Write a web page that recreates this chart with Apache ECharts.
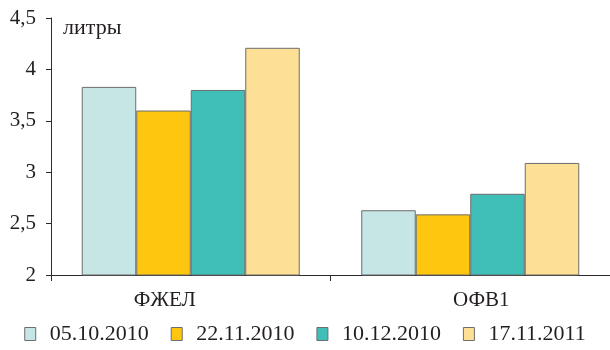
<!DOCTYPE html>
<html>
<head>
<meta charset="utf-8">
<script src="https://cdn.jsdelivr.net/npm/echarts@6/dist/echarts.min.js"></script>
<style>
html, body { margin: 0; padding: 0; background: #fff; }
#chart { width: 610px; height: 350px; }
</style>
</head>
<body>
<div id="chart"></div>
<script>
// показатели
var categories = ['ФЖЕЛ', 'ОФВ1'];
var dates = ['05.10.2010', '22.11.2010', '10.12.2010', '17.11.2011'];
var d1 = [3.83, 2.63];
var d2 = [3.60, 2.59];
var d3 = [3.80, 2.79];
var d4 = [4.21, 3.09];
var yTicks = [2, 2.5, 3, 3.5, 4, 4.5];

var colors = ['#c5e6e5', '#fec60f', '#3fbfb7', '#fedf96'];
var font = '"Liberation Serif", "DejaVu Serif", serif';
var txt = '#231f20';

var chart = echarts.init(document.getElementById('chart'));

function bar(name, data) {
	return {
		name: name,
		type: 'bar',
		data: data,
		barGap: '0%',
		barCategoryGap: '22%',
		itemStyle: {
			borderColor: '#6d6d6d',
			borderWidth: 1
		}
	};
}

// подписи категорий в оригинале смещены
var catPad = [[0, 52, 0, 0], [0, 0, 0, 22]];

chart.setOption({
	animation: false,
	color: colors,
	title: {
		text: 'литры',
		left: 58,
		top: 12,
		textStyle: { fontFamily: font, fontSize: 22, fontWeight: 'normal', color: txt }
	},
	grid: { left: 51, right: 0, top: 18, bottom: 75, containLabel: false },
	legend: {
		bottom: 0,
		left: 'center',
		itemWidth: 11,
		itemHeight: 13,
		itemGap: 22,
		icon: 'rect',
		itemStyle: { borderColor: '#6d6d6d', borderWidth: 1 },
		textStyle: { fontFamily: font, fontSize: 22, color: txt, padding: [0, 0, 0, 9] },
		data: dates
	},
	xAxis: {
		type: 'category',
		data: categories.map(function (c, i) {
			return { value: c, textStyle: { padding: catPad[i] } };
		}),
		axisLine: { lineStyle: { color: '#2b2b2b', width: 1 } },
		axisTick: { show: true, length: 6, lineStyle: { color: '#2b2b2b' } },
		axisLabel: { fontFamily: font, fontSize: 21, color: txt, margin: 15 }
	},
	yAxis: {
		type: 'value',
		min: 2,
		max: 4.5,
		interval: 0.5,
		splitLine: { show: false },
		axisLine: { show: true, lineStyle: { color: '#2b2b2b', width: 1 } },
		axisTick: { show: true, length: 5, lineStyle: { color: '#2b2b2b' } },
		axisLabel: {
			fontFamily: font, fontSize: 21, color: txt, margin: 15,
			formatter: function (v) {
				return yTicks.indexOf(v) >= 0 ? String(v).replace('.', ',') : '';
			}
		}
	},
	series: [
		bar(dates[0], d1),
		bar(dates[1], d2),
		bar(dates[2], d3),
		bar(dates[3], d4)
	]
});
</script>
</body>
</html>
